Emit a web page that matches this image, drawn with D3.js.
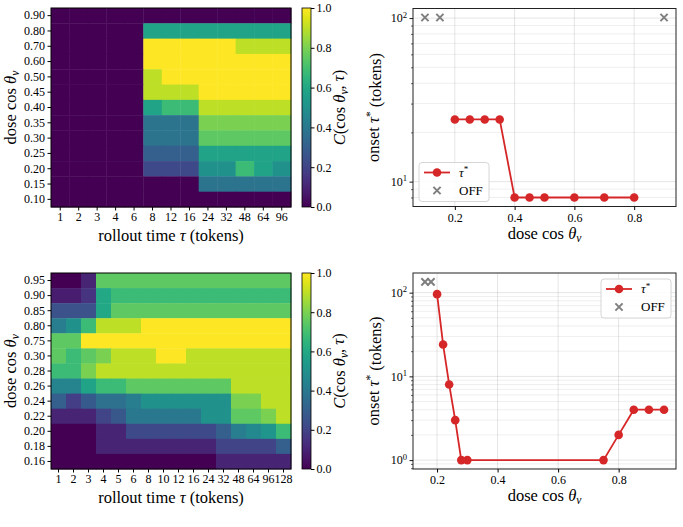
<!DOCTYPE html>
<html>
<head>
<meta charset="utf-8">
<script src="https://cdn.jsdelivr.net/npm/d3@7"></script>
<style>
body { margin: 0; background: #fff; }
svg text { font-family: "Liberation Serif", "DejaVu Serif", serif; fill: #000; }
</style>
</head>
<body>
<svg id="fig" width="683" height="527"></svg>
<script>
// ---- data ----
const topDoses = [0.90, 0.80, 0.70, 0.60, 0.50, 0.45, 0.40, 0.35, 0.30, 0.25, 0.20, 0.15, 0.10];
const topTaus = ['1', '2', '3', '4', '6', '8', '12', '16', '24', '32', '48', '64', '96'];
const topC = [
  [0, 0, 0, 0, 0, 0, 0, 0, 0, 0, 0, 0, 0],
  [0, 0, 0, 0, 0, .58, .58, .58, .58, .58, .58, .58, .58],
  [0, 0, 0, 0, 0, 1, 1, 1, 1, 1, .9, .9, .9],
  [0, 0, 0, 0, 0, 1, 1, 1, 1, 1, 1, 1, 1],
  [0, 0, 0, 0, 0, .9, 1, 1, 1, 1, 1, 1, 1],
  [0, 0, 0, 0, 0, .9, .9, .9, 1, 1, 1, 1, 1],
  [0, 0, 0, 0, 0, .58, .68, .68, .9, .9, .9, .9, .9],
  [0, 0, 0, 0, 0, .38, .38, .38, .8, .8, .8, .8, .8],
  [0, 0, 0, 0, 0, .38, .38, .38, .75, .75, .75, .75, .75],
  [0, 0, 0, 0, 0, .3, .3, .3, .58, .58, .58, .58, .58],
  [0, 0, 0, 0, 0, .22, .22, .22, .5, .5, .68, .58, .5],
  [0, 0, 0, 0, 0, 0, 0, 0, .38, .38, .38, .38, .38],
  [0, 0, 0, 0, 0, 0, 0, 0, 0, 0, 0, 0, 0]
];

const botDoses = [0.95, 0.90, 0.85, 0.80, 0.75, 0.30, 0.28, 0.26, 0.24, 0.22, 0.20, 0.18, 0.16];
const botTaus = ['1', '2', '3', '4', '5', '6', '8', '10', '12', '16', '24', '32', '48', '64', '96', '128'];
const botC = [
  [0, 0, .1, .75, .75, .75, .75, .75, .75, .75, .75, .75, .75, .75, .75, .75],
  [.08, .08, .15, .6, .68, .68, .68, .68, .68, .68, .68, .68, .68, .68, .68, .68],
  [.25, .25, .25, .6, .75, .75, .75, .75, .75, .75, .75, .75, .75, .75, .75, .75],
  [.42, .5, .68, .9, .9, .9, 1, 1, 1, 1, 1, 1, 1, 1, 1, 1],
  [.75, .75, 1, 1, 1, 1, 1, 1, 1, 1, 1, 1, 1, 1, 1, 1],
  [.75, .68, .75, .8, .9, .9, .9, 1, 1, .9, .9, .9, .9, .9, .9, .9],
  [.68, .68, .8, .9, .9, .9, .9, .9, .9, .9, .9, .9, .9, .9, .9, .9],
  [.45, .45, .58, .68, .68, .75, .75, .75, .75, .75, .75, .75, .9, .9, .9, .9],
  [.3, .18, .28, .37, .37, .42, .5, .5, .5, .5, .5, .5, .8, .8, .9, .9],
  [.1, .1, .1, .2, .27, .4, .4, .4, .4, .4, .5, .5, .75, .75, .8, .9],
  [0, 0, 0, .1, .1, .22, .22, .22, .22, .22, .22, .3, .42, .47, .52, .68],
  [0, 0, 0, .1, .1, .1, .1, .1, .1, .1, .1, .2, .2, .2, .2, .3],
  [0, 0, 0, 0, 0, 0, 0, 0, 0, 0, 0, .1, .1, .1, .1, .1]
];

const topOnsetDose = [0.20, 0.25, 0.30, 0.35, 0.40, 0.45, 0.50, 0.60, 0.70, 0.80];
const topOnsetTau = [24, 24, 24, 24, 8, 8, 8, 8, 8, 8];
const topOffDose = [0.10, 0.15, 0.90];
const topOffTau = 100.8;

const botOnsetDose = [0.20, 0.22, 0.24, 0.26, 0.28, 0.30, 0.75, 0.80, 0.85, 0.90, 0.95];
const botOnsetTau = [96, 24, 8, 3, 1, 1, 1, 2, 4, 4, 4];
const botOffDose = [0.16, 0.18];
const botOffTau = 134.4;

const cbTicks = [0, 0.2, 0.4, 0.6, 0.8, 1.0];

// ---- drawing ----
const svg = d3.select('#fig');
const RED = '#d62728';
const GRAY = '#7f7f7f';

// text with italic / sub / sup pieces
function rich(text, parts) {
  let shift = 0;
  parts.forEach(p => {
    const t = text.append('tspan').text(p.t);
    if (p.i) t.attr('font-style', 'italic');
    const want = p.sub ? 0.3 : p.sup ? -0.45 : 0;
    if (want !== shift) t.attr('dy', (want - shift) + 'em');
    if (p.sub || p.sup) t.attr('font-size', '0.7em');
    shift = want;
  });
  return text;
}
const doseParts = [{ t: 'dose cos ' }, { t: 'θ', i: 1 }, { t: 'v', i: 1, sub: 1 }];
const tauParts = [{ t: 'rollout time ' }, { t: 'τ', i: 1 }, { t: ' (tokens)' }];
const cParts = [{ t: 'C', i: 1 }, { t: '(cos ' }, { t: 'θ', i: 1 }, { t: 'v', i: 1, sub: 1 }, { t: ', ' }, { t: 'τ', i: 1 }, { t: ')' }];
const onsetParts = [{ t: 'onset ' }, { t: 'τ', i: 1 }, { t: '*', sup: 1 }, { t: '  (tokens)' }];

function styleAxis(ax, size) {
  ax.select('.domain').remove();
  ax.selectAll('text').attr('font-size', size).style('font-family', '"Liberation Serif", serif');
  ax.selectAll('line').attr('stroke', '#000');
}

// gradient for the colorbars
const grad = svg.append('defs').append('linearGradient')
    .attr('id', 'viridis').attr('x1', 0).attr('x2', 0).attr('y1', 1).attr('y2', 0);
d3.range(0, 1.001, 0.05).forEach(t => {
  grad.append('stop').attr('offset', t).attr('stop-color', d3.interpolateViridis(t));
});

function heatmap(box, doses, taus, C) {
  const g = svg.append('g').attr('transform', `translate(${box.x},${box.y})`);
  const fmt = d3.format('.2f');
  const x = d3.scaleBand().domain(taus).range([0, box.w]);
  const y = d3.scaleBand().domain(doses.map(fmt)).range([0, box.h]);
  const cells = C.flatMap((row, i) => row.map((v, j) => ({ d: fmt(doses[i]), t: taus[j], v })));
  g.selectAll('rect.cell').data(cells).join('rect')
      .attr('class', 'cell')
      .attr('x', d => x(d.t))
      .attr('y', d => y(d.d))
      .attr('width', x.bandwidth() + 0.4)
      .attr('height', y.bandwidth() + 0.4)
      .attr('fill', d => d3.interpolateViridis(d.v));
  g.append('rect').attr('width', box.w).attr('height', box.h)
      .attr('fill', 'none').attr('stroke', '#000').attr('stroke-width', 1);
  const ya = g.append('g').call(d3.axisLeft(y).tickSize(3.5).tickPadding(2.5));
  styleAxis(ya, 12);
  const xa = g.append('g').attr('transform', `translate(0,${box.h})`)
      .call(d3.axisBottom(x).tickSize(3.5).tickPadding(2));
  styleAxis(xa, 12);
  rich(g.append('text').attr('text-anchor', 'middle').attr('font-size', 16.5)
      .attr('x', box.w / 2).attr('y', box.h + 34), tauParts);
  rich(g.append('text').attr('text-anchor', 'middle').attr('font-size', 16.5)
      .attr('transform', `translate(${-35},${box.h / 2}) rotate(-90)`), doseParts);

  // colorbar
  const cb = svg.append('g').attr('transform', `translate(${box.x + box.w + 11},${box.y})`);
  cb.append('rect').attr('width', 9).attr('height', box.h).attr('fill', 'url(#viridis)')
      .attr('stroke', '#000').attr('stroke-width', 0.8);
  const cy = d3.scaleLinear().domain([0, 1]).range([box.h, 0]);
  const ca = cb.append('g').attr('transform', 'translate(9,0)')
      .call(d3.axisRight(cy).tickValues(cbTicks).tickFormat(d3.format('.1f')).tickSize(3.5).tickPadding(2));
  styleAxis(ca, 12);
  rich(cb.append('text').attr('text-anchor', 'middle').attr('font-size', 16.5)
      .attr('transform', `translate(${43},${box.h / 2}) rotate(-90)`), cParts);
}

function onsetPlot(box, dose, tau, offDose, offTau, leg) {
  const g = svg.append('g').attr('transform', `translate(${box.x},${box.y})`);
  const [xmin, xmax] = d3.extent(dose.concat(offDose));
  const px = (xmax - xmin) * 0.05;
  const x = d3.scaleLinear().domain([xmin - px, xmax + px]).range([0, box.w]);
  const lo = Math.log10(d3.min(tau)), hi = Math.log10(offTau);
  const lp = (hi - lo) * 0.05;
  const y = d3.scaleLog().domain([10 ** (lo - lp), 10 ** (hi + lp)]).range([box.h, 0]);

  const yt = y.ticks();
  const isMajor = v => Math.abs(Math.log10(v) - Math.round(Math.log10(v))) < 1e-9;
  g.selectAll('line.hg').data(yt).join('line').attr('class', 'hg')
      .attr('x1', 0).attr('x2', box.w).attr('y1', d => y(d)).attr('y2', d => y(d))
      .attr('stroke', '#000').attr('stroke-opacity', d => isMajor(d) ? 0.12 : 0.08).attr('stroke-width', 0.9);
  const xt = x.ticks(5);
  g.selectAll('line.vg').data(xt).join('line').attr('class', 'vg')
      .attr('y1', 0).attr('y2', box.h).attr('x1', d => x(d)).attr('x2', d => x(d))
      .attr('stroke', '#000').attr('stroke-opacity', 0.12).attr('stroke-width', 0.9);

  const pts = dose.map((d, i) => [d, tau[i]]);
  g.append('path').datum(pts)
      .attr('d', d3.line().x(d => x(d[0])).y(d => y(d[1])))
      .attr('fill', 'none').attr('stroke', RED).attr('stroke-width', 1.8);
  g.selectAll('circle.pt').data(pts).join('circle').attr('class', 'pt')
      .attr('cx', d => x(d[0])).attr('cy', d => y(d[1])).attr('r', 4.3).attr('fill', RED);
  const cross = 'M-3.6,-3.6L3.6,3.6M-3.6,3.6L3.6,-3.6';
  g.selectAll('path.off').data(offDose).join('path').attr('class', 'off')
      .attr('transform', d => `translate(${x(d)},${y(offTau)})`)
      .attr('d', cross).attr('stroke', GRAY).attr('stroke-width', 2);

  g.append('rect').attr('width', box.w).attr('height', box.h)
      .attr('fill', 'none').attr('stroke', '#222').attr('stroke-width', 1);

  const xa = g.append('g').attr('transform', `translate(0,${box.h})`)
      .call(d3.axisBottom(x).tickValues(xt).tickFormat(d3.format('.1f')).tickSize(3.5).tickPadding(3));
  styleAxis(xa, 12);
  const ya = g.append('g')
      .call(d3.axisLeft(y).tickValues(yt).tickSize(0).tickPadding(4).tickFormat(''));
  styleAxis(ya, 12);
  ya.selectAll('.tick').each(function(d) {
    const t = d3.select(this);
    const major = isMajor(d);
    t.select('line').attr('x2', major ? -3.5 : -2).attr('stroke-width', major ? 0.9 : 0.6);
    if (major) {
      const e = Math.round(Math.log10(d));
      const tx = t.select('text').attr('x', -6);
      tx.append('tspan').text('10');
      tx.append('tspan').text(e).attr('font-size', '0.72em').attr('dy', '-0.55em');
    }
  });

  rich(g.append('text').attr('text-anchor', 'middle').attr('font-size', 16.5)
      .attr('x', box.w / 2).attr('y', box.h + 32), doseParts);
  rich(g.append('text').attr('text-anchor', 'middle').attr('font-size', 16.5)
      .attr('transform', `translate(${-34},${box.h / 2}) rotate(-90)`), onsetParts);

  // legend
  const lg = g.append('g').attr('transform', `translate(${leg.x},${leg.y})`);
  lg.append('rect').attr('width', 70).attr('height', 39).attr('rx', 3)
      .attr('fill', '#fff').attr('fill-opacity', 0.85).attr('stroke', '#ccc').attr('stroke-width', 0.8);
  lg.append('line').attr('x1', 5).attr('x2', 31).attr('y1', 10).attr('y2', 10)
      .attr('stroke', RED).attr('stroke-width', 1.8);
  lg.append('circle').attr('cx', 18).attr('cy', 10).attr('r', 4.3).attr('fill', RED);
  lg.append('path').attr('d', cross).attr('transform', 'translate(18,28)')
      .attr('stroke', GRAY).attr('stroke-width', 2);
  rich(lg.append('text').attr('x', 40).attr('y', 14).attr('font-size', 13),
      [{ t: 'τ', i: 1 }, { t: '*', sup: 1 }]);
  lg.append('text').attr('x', 40).attr('y', 32).attr('font-size', 13).text('OFF');
}

heatmap({ x: 51, y: 8, w: 240, h: 199 }, topDoses, topTaus, topC);
heatmap({ x: 51, y: 273, w: 240, h: 196 }, botDoses, botTaus, botC);
onsetPlot({ x: 413, y: 8.5, w: 263, h: 198 }, topOnsetDose, topOnsetTau, topOffDose, topOffTau, { x: 6, y: 154 });
onsetPlot({ x: 413, y: 273, w: 263, h: 196 }, botOnsetDose, botOnsetTau, botOffDose, botOffTau, { x: 188, y: 6 });
</script>
</body>
</html>
